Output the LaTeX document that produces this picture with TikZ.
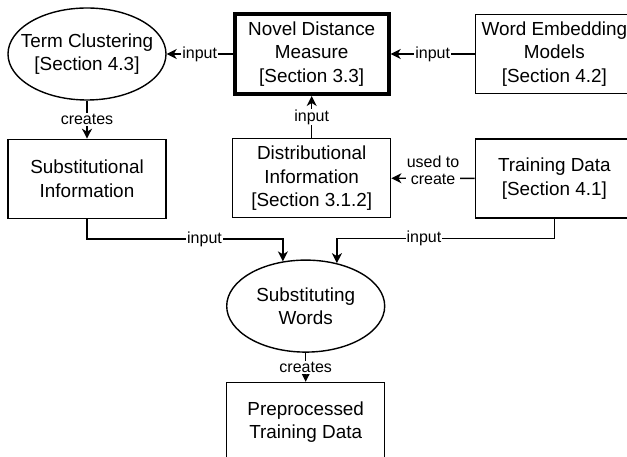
\documentclass[tikz,border=0pt]{standalone}
\usepackage{fontspec}
\setmainfont{Liberation Sans}
\usetikzlibrary{positioning,shapes.geometric,arrows.meta}

\begin{document}
\begin{tikzpicture}[
    x=1pt, y=1pt,
    font=\fontsize{18.9}{23.5}\selectfont,
    process/.style={rectangle, draw, line width=1.4pt, text centered, align=center, minimum width=158pt, minimum height=79pt, inner sep=0pt},
    measure/.style={process, line width=4pt, minimum width=154pt, minimum height=80pt},
    task/.style={ellipse, draw, line width=1.4pt, align=center, minimum width=158pt, minimum height=92pt, inner xsep=-15pt, inner ysep=0pt},
    arrow/.style={line width=1.4pt, -{Stealth[length=10pt,width=10pt,inset=3pt]}},
    edgelabel/.style={fill=white, inner sep=1pt, font=\fontsize{16}{17}\selectfont, align=center}
]
    \useasboundingbox (0,0) rectangle (627,-457);

    % Top row
    \node [task] (term) at (87,-54) {Term Clustering\\{}[Section 4.3]};
    \node [measure, right=66pt of term] (novel) {Novel Distance\\Measure\\{}[Section 3.3]};
    \node [process, right=84pt of novel] (embed) {Word Embedding\\Models\\{}[Section 4.2]};

    % Second row
    \node [process, below=38pt of term] (subst) {Substitutional\\Information};
    \node [process, below=42pt of novel] (distr) {Distributional\\Information\\{}[Section 3.1.2]};
    \node [process, below=44pt of embed] (train) {Training Data\\{}[Section 4.1]};

    % Substitution and result
    \node [task, below=41pt of distr, xshift=-6pt] (subw) {Substituting\\Words};
    \node [process, below=29pt of subw] (prep) {Preprocessed\\Training Data};

    % Arrows
    \draw [arrow] (novel) -- node [edgelabel] {input} (term);
    \draw [arrow] (embed) -- node [edgelabel] {input} (novel);
    \draw [arrow] (distr) -- node [edgelabel] {input} (novel);
    \draw [arrow] (term) -- node [edgelabel] {creates} (subst);
    \draw [arrow] (train) -- node [edgelabel, yshift=8.5pt] {used to\\create} (distr);
    \draw [arrow] (subst.south) -- ++(0,-20) -| node [edgelabel, pos=0.3] {input} (subw.117);
    \draw [arrow] (train.south) -- ++(0,-20) -| node [edgelabel, pos=0.3] {input} (subw.54);
    \draw [arrow] (subw) -- node [edgelabel] {creates} (prep);
\end{tikzpicture}
\end{document}
